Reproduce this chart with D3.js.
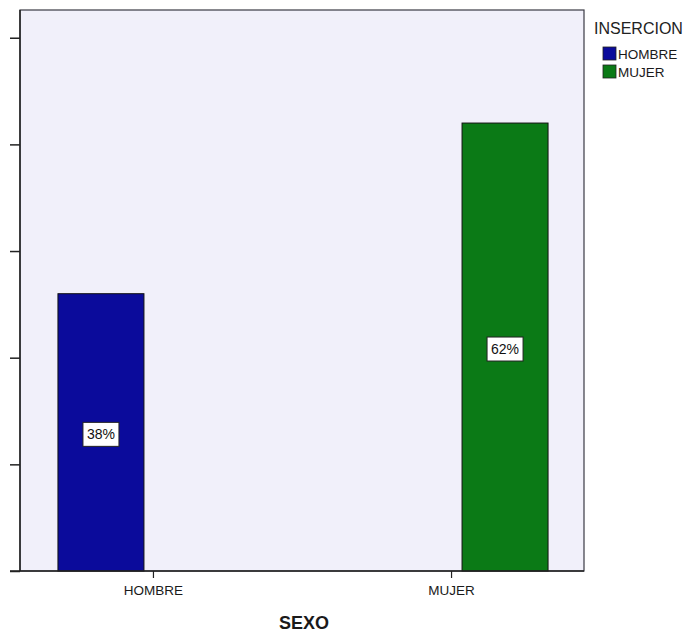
<!DOCTYPE html>
<html>
<head>
<meta charset="utf-8">
<script src="https://cdn.jsdelivr.net/npm/d3@7"></script>
<style>
  html, body { margin: 0; padding: 0; background: #ffffff; }
  svg { display: block; }
  text { font-family: "Liberation Sans", Arial, sans-serif; }
</style>
</head>
<body>
<svg id="chart" width="691" height="634"></svg>
<script>
// Data
const categories = ["HOMBRE", "MUJER"];        // x-axis categories (SEXO)
const seriesNames = ["HOMBRE", "MUJER"];       // legend series (INSERCION)
const seriesColors = ["#0b0b9b", "#0b7a16"];
const counts = [26, 42];                       // bar values (HOMBRE in HOMBRE, MUJER in MUJER)
const percentLabels = ["38%", "62%"];
const yTicks = [0, 10, 20, 30, 40, 50];

const svg = d3.select("#chart");
const pLeft = 20, pRight = 584, pTop = 10, pBottom = 571;

const x = d3.scalePoint().domain(categories).range([pLeft, pRight]).padding(0.446);
const xs = d3.scaleBand().domain(seriesNames).range([-96, 96]).paddingInner(0.1887);
const y = d3.scaleLinear().domain([0, 52.6]).range([pBottom, pTop]);

// plot background
svg.append("rect")
  .attr("x", pLeft).attr("y", pTop)
  .attr("width", pRight - pLeft).attr("height", pBottom - pTop)
  .attr("fill", "#f1f0fa")
  .attr("stroke", "#3a3a44").attr("stroke-width", 1.2);

// bars
const bars = categories.map((c, i) => ({cat: c, series: seriesNames[i], value: counts[i], label: percentLabels[i], color: seriesColors[i]}));

svg.selectAll("rect.bar").data(bars).enter().append("rect")
  .attr("class", "bar")
  .attr("x", d => x(d.cat) + xs(d.series) + 1)
  .attr("y", d => y(d.value))
  .attr("width", xs.bandwidth())
  .attr("height", d => y(0) - y(d.value))
  .attr("fill", d => d.color)
  .attr("stroke", "#111").attr("stroke-width", 1);

// value labels
const lab = svg.selectAll("g.lab").data(bars).enter().append("g")
  .attr("class", "lab")
  .attr("transform", d => `translate(${x(d.cat) + xs(d.series) + 1 + xs.bandwidth() / 2},${(y(d.value) + y(0)) / 2 + 2})`);
lab.append("rect")
  .attr("x", -18).attr("y", -12).attr("width", 36).attr("height", 24)
  .attr("fill", "#ffffff").attr("stroke", "#222").attr("stroke-width", 1);
lab.append("text")
  .attr("text-anchor", "middle").attr("y", 5)
  .attr("font-size", 14).attr("fill", "#111")
  .text(d => d.label);

// y axis (ticks only, no labels)
const yAxis = d3.axisLeft(y).tickValues(yTicks).tickSize(10).tickFormat("");
const gy = svg.append("g").attr("transform", `translate(${pLeft},0)`).call(yAxis);
gy.select(".domain").remove();
gy.selectAll(".tick line").attr("stroke", "#222").attr("stroke-width", 1.5);
svg.append("line").attr("x1", pLeft).attr("x2", pLeft).attr("y1", pTop).attr("y2", pBottom)
  .attr("stroke", "#222").attr("stroke-width", 1.5);

// x axis
const xAxis = d3.axisBottom(x).tickSize(7).tickPadding(7);
const gx = svg.append("g").attr("transform", `translate(0,${pBottom})`).call(xAxis);
gx.select(".domain").remove();
gx.selectAll(".tick line").attr("stroke", "#222").attr("stroke-width", 1.2);
gx.selectAll(".tick text").attr("font-size", 13.5).attr("fill", "#1a1a1a")
  .attr("font-family", "Liberation Sans, Arial, sans-serif");
svg.append("line").attr("x1", pLeft - 10).attr("x2", pRight).attr("y1", pBottom).attr("y2", pBottom)
  .attr("stroke", "#222").attr("stroke-width", 1.5);

// x axis title
svg.append("text")
  .attr("x", (pLeft + pRight) / 2 + 2).attr("y", 629)
  .attr("text-anchor", "middle")
  .attr("font-size", 18).attr("font-weight", "bold").attr("fill", "#1a1a1a")
  .text("SEXO");

// legend
svg.append("text").attr("x", 594).attr("y", 34)
  .attr("font-size", 16).attr("fill", "#222").text("INSERCION");
const lg = svg.selectAll("g.leg").data(seriesNames).enter().append("g")
  .attr("class", "leg")
  .attr("transform", (d, i) => `translate(603,${47 + i * 18})`);
lg.append("rect").attr("width", 13).attr("height", 13)
  .attr("fill", (d, i) => seriesColors[i]).attr("stroke", "#222").attr("stroke-width", 0.8);
lg.append("text").attr("x", 15).attr("y", 12)
  .attr("font-size", 13.5).attr("fill", "#1a1a1a").text(d => d);
</script>
</body>
</html>
